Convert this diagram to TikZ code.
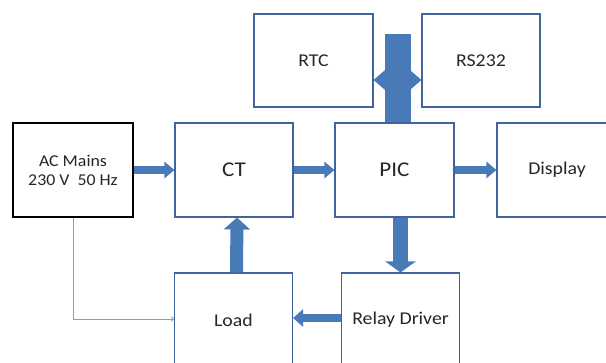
\documentclass[tikz,border=0pt]{standalone}
\usepackage{fontspec}
\setmainfont{Carlito}
\newfontfamily\lblfont[FakeStretch=1.1]{Carlito}
\newfontfamily\acfont[FakeStretch=1.08]{Carlito}
\usetikzlibrary{arrows.meta,calc}
\definecolor{boxblue}{RGB}{64,100,158}
\definecolor{arrblue}{RGB}{72,122,184}
\definecolor{thinblue}{RGB}{115,160,222}
\definecolor{txtgray}{RGB}{38,38,38}
\tikzset{
  blk/.style={draw=boxblue, line width=1.1pt, fill=white, text=txtgray,
    font=\lblfont\fontsize{18}{21}\selectfont, align=center, inner sep=0pt},
  bigblk/.style={blk, font=\lblfont\fontsize{21}{24}\selectfont},
  flow/.style={draw=arrblue, line width=8pt,
    -{Triangle[length=10pt,width=16pt]}},
  flowbig/.style={draw=arrblue, line width=13pt,
    -{Triangle[length=12pt,width=26pt]}},
}
\begin{document}
\begin{tikzpicture}[x=1pt,y=-1pt]
  \useasboundingbox (0,0) rectangle (606,363);
  \clip (0,0) rectangle (606,363);
  % blocks
  \node[blk, draw=black, line width=1.7pt, minimum width=120pt, minimum height=94pt,
    font=\acfont\fontsize{16.5}{19}\selectfont] (ac) at (73,170) {AC Mains\\230 V\ \ 50 Hz};
  \node[bigblk, minimum width=118pt, minimum height=94pt] (ct) at (234,170) {CT};
  \node[bigblk, minimum width=119pt, minimum height=94pt] (pic) at (394.5,170) {PIC};
  \node[blk, minimum width=120pt, minimum height=94pt] (disp) at (557,170) {Display};
  \node[blk, minimum width=119pt, minimum height=93pt] (rtc) at (313.5,60.5) {RTC};
  \node[blk, minimum width=118pt, minimum height=93pt] (rs) at (481,60.5) {RS232};
  \node[blk, minimum width=118pt, minimum height=94pt] (load) at (233.5,320) {Load};
  \node[blk, minimum width=118pt, minimum height=94pt] (relay) at (400.5,320) {Relay Driver};
  % bus between RTC, RS232 and PIC
  \coordinate (rtcbus) at ($(rtc.east)+(0,19.5)$);
  \coordinate (rsbus) at ($(rs.west)+(0,19.5)$);
  \coordinate (bustop) at (398,34);
  \draw[draw=arrblue, line width=10pt,
    {Triangle[length=12pt,width=20pt]}-{Triangle[length=12pt,width=20pt]}] (rtcbus) -- (rsbus);
  \draw[draw=arrblue, line width=26pt] (bustop) -- (bustop |- pic.north);
  % signal flow
  \draw[flow] (ac.east) -- (ct.west);
  \draw[flow] (ct.east) -- (pic.west);
  \draw[flow] (pic.east) -- (disp.west);
  \draw[flowbig] ($(load.north)+(3,0)$) -- ($(ct.south)+(3,0)$);
  \draw[draw=arrblue, line width=15pt, -{Triangle[length=11pt,width=30pt]}] (pic.south -| relay.north) -- (relay.north);
  \draw[draw=arrblue, line width=8pt, -{Triangle[length=10pt,width=17pt]}] ($(relay.west)+(0,-2)$) -- ($(load.east)+(0,-2)$);
  \draw[thinblue, line width=0.8pt, -{To[length=3pt,width=5pt]}] (ac.south) |- ($(load.west)+(0,-1)$);
\end{tikzpicture}
\end{document}
